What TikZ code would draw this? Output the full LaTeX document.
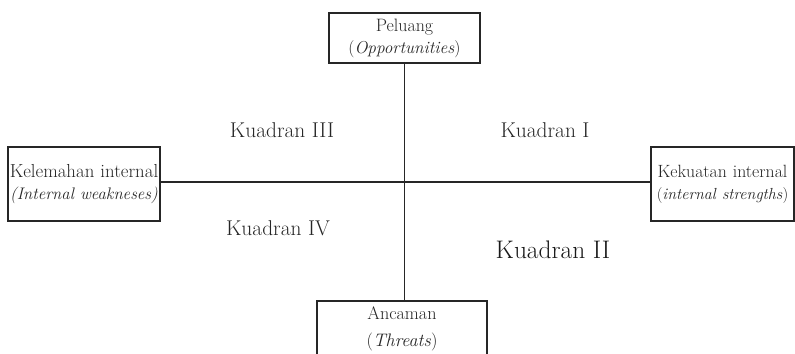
\documentclass[tikz,border=0pt]{standalone}
\newcommand{\fs}[1]{\fontsize{#1}{22}\selectfont}
\begin{document}
\begin{tikzpicture}[x=1bp,y=-1bp,
  ink/.style={draw=black!85, line width=1.1bp},
  box/.style={ink, fill=white, inner sep=0pt, align=center, text=black!85,
    font=\fontsize{18.2}{22}\selectfont},
  quad/.style={text=black!85, inner sep=0pt, font=\fontsize{21.5}{24}\selectfont},
  axis/.style={draw=black!85, line width=1.5bp}]
\useasboundingbox (0,0) rectangle (795,353);
\clip (0,0) rectangle (795,353);
% boxes
\node[box, text width=151bp, minimum height=50bp] (opp) at (404.5,38)
  {\fs{18}Peluang\\\fs{17.3}(\textit{Opportunities})};
\node[box, text width=152bp, minimum height=74bp] (weak) at (84,184)
  {\fs{18.9}Kelemahan internal\\\fs{16.8}\textit{(Internal weakneses)}};
\node[box, text width=143bp, minimum height=74bp] (str) at (722.5,184)
  {\fs{17.8}Kekuatan internal\\\fs{16.1}(\textit{internal strengths})};
\node[box, minimum width=170bp, minimum height=62bp] (thr) at (402,332) {};
\node[text=black!85, inner sep=0pt, align=center, font=\fontsize{18.2}{27}\selectfont]
  (thrtext) at (402,329) {Ancaman\\(\textit{Threats})};
% axes
\draw[axis] (opp.south) -- (opp.south |- thr.north);
\draw[axis] ([yshift=2bp]weak.east) -- ([yshift=2bp]str.west);
% quadrant labels
\node[quad] (q3) at (282,130) {Kuadran III};
\node[quad] (q1) at (545,130) {Kuadran I};
\node[quad] (q4) at (278,228) {Kuadran IV};
\node[quad, font=\fontsize{25.5}{28}\selectfont, text=black!90] (q2) at (553,250) {Kuadran II};
\end{tikzpicture}
\end{document}
